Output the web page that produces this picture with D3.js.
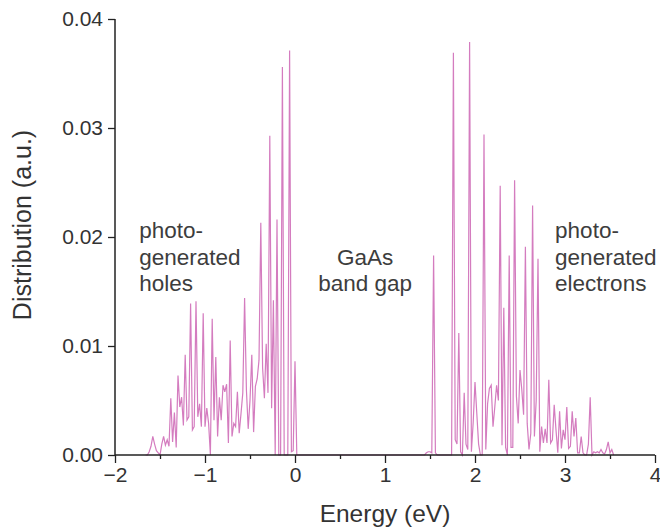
<!DOCTYPE html>
<html>
<head>
<meta charset="utf-8">
<script src="https://cdn.jsdelivr.net/npm/d3@7/dist/d3.min.js"></script>
<style>
  html, body { margin: 0; padding: 0; background: #fff; }
  svg { display: block; font-family: "Liberation Sans", Arial, Helvetica, sans-serif; }
</style>
</head>
<body>
<svg id="chart" width="660" height="529"></svg>
<script>
// Energy grid (eV) and distribution of photo-generated holes (valence band side)
const holeEnergy = [
  -1.66, -1.64, -1.62, -1.60, -1.58, -1.56, -1.54, -1.52, -1.50, -1.48,
  -1.46, -1.44, -1.42, -1.40, -1.38, -1.36, -1.34, -1.32, -1.30, -1.28,
  -1.26, -1.24, -1.22, -1.20, -1.18, -1.16, -1.14, -1.12, -1.10, -1.08,
  -1.06, -1.04, -1.02, -1.00, -0.98, -0.96, -0.94, -0.92, -0.90, -0.88,
  -0.86, -0.84, -0.82, -0.80, -0.78, -0.76, -0.74, -0.72, -0.70, -0.68,
  -0.66, -0.64, -0.62, -0.60, -0.58, -0.56, -0.54, -0.52, -0.50, -0.48,
  -0.46, -0.44, -0.42, -0.40, -0.38, -0.36, -0.34, -0.32, -0.30, -0.28,
  -0.26, -0.24, -0.22, -0.20, -0.18, -0.16, -0.14, -0.12, -0.10, -0.08,
  -0.06, -0.04, -0.02, 0.00, 0.02, 0.04
];
const holeDist = [
  0, 0, 0.0003, 0.0008, 0.0017, 0.0010, 0.0004, 0.0002, 0, 0.0010,
  0.0017, 0.0009, 0.0014, 0.0008, 0.0052, 0.0012, 0.0039, 0.0007, 0.0073, 0.0044,
  0.0053, 0.0027, 0.0092, 0.0032, 0.0035, 0.0139, 0.0023, 0.0026, 0.0141, 0.0035,
  0.0047, 0.0026, 0.0130, 0.0026, 0.0043, 0.0029, 0, 0.0125, 0.0032, 0.0090,
  0.0017, 0.0053, 0.0032, 0.0064, 0.0058, 0.0065, 0.0011, 0.0105, 0.0017, 0.0029,
  0.0026, 0.0058, 0.0020, 0.0038, 0.0057, 0.0144, 0.0060, 0.0024, 0.0050, 0.0092,
  0.0021, 0.0063, 0.0070, 0.0087, 0.0213, 0.0080, 0.0052, 0.0102, 0.0057, 0.0293,
  0.0043, 0.0142, 0, 0.0216, 0, 0, 0.0356, 0, 0, 0,
  0.0371, 0.0003, 0.0004, 0.0086, 0, 0
];

// Energy grid (eV) and distribution of photo-generated electrons (conduction band side)
const electronEnergy = [
  1.44, 1.46, 1.48, 1.50, 1.52, 1.54, 1.56, 1.58, 1.60, 1.62,
  1.64, 1.66, 1.68, 1.70, 1.72, 1.74, 1.76, 1.78, 1.80, 1.82,
  1.84, 1.86, 1.88, 1.90, 1.92, 1.94, 1.96, 1.98, 2.00, 2.02,
  2.04, 2.06, 2.08, 2.10, 2.12, 2.14, 2.16, 2.18, 2.20, 2.22,
  2.24, 2.26, 2.28, 2.30, 2.32, 2.34, 2.36, 2.38, 2.40, 2.42,
  2.44, 2.46, 2.48, 2.50, 2.52, 2.54, 2.56, 2.58, 2.60, 2.62,
  2.64, 2.66, 2.68, 2.70, 2.72, 2.74, 2.76, 2.78, 2.80, 2.82,
  2.84, 2.86, 2.88, 2.90, 2.92, 2.94, 2.96, 2.98, 3.00, 3.02,
  3.04, 3.06, 3.08, 3.10, 3.12, 3.14, 3.16, 3.18, 3.20, 3.22,
  3.24, 3.26, 3.28, 3.30, 3.32, 3.34, 3.36, 3.38, 3.40, 3.42,
  3.44, 3.46, 3.48, 3.50, 3.52, 3.54
];
const electronDist = [
  0, 0.0002, 0.0003, 0.0003, 0.0002, 0.0183, 0.0002, 0, 0, 0,
  0, 0, 0, 0, 0, 0, 0.0369, 0.0014, 0.0010, 0.0112,
  0.0003, 0, 0.0057, 0.0010, 0.0005, 0.0379, 0.0003, 0.0030, 0.0067, 0.0038,
  0.0010, 0, 0, 0.0294, 0.0005, 0.0047, 0.0061, 0.0064, 0.0026, 0.0044,
  0.0064, 0.0050, 0.0247, 0.0009, 0.0135, 0.0007, 0, 0.0183, 0.0007, 0.0007,
  0.0252, 0.0054, 0.0029, 0.0078, 0.0060, 0.0037, 0.0191, 0.0029, 0.0005, 0.0020,
  0.0229, 0.0017, 0.0050, 0.0180, 0.0003, 0.0026, 0.0011, 0.0024, 0.0011, 0.0069,
  0.0011, 0.0014, 0.0046, 0.0023, 0.0002, 0.0040, 0.0006, 0.0023, 0.0014, 0.0044,
  0.0006, 0.0008, 0.0040, 0.0017, 0.0034, 0.0002, 0.0002, 0.0017, 0.0002, 0,
  0, 0.0010, 0.0053, 0, 0.0003, 0.0002, 0.0003, 0.0002, 0.0005, 0.0002,
  0.0001, 0.0005, 0.0012, 0.0002, 0.0005, 0
];

const xTicks = [-2, -1, 0, 1, 2, 3, 4];
const xMinorTicks = [-1.5, -0.5, 0.5, 1.5, 2.5, 3.5];
const yTicks = [0, 0.01, 0.02, 0.03, 0.04];

const annotations = [
  { lines: ["photo-", "generated", "holes"], x: -1.73, anchor: "start" },
  { lines: ["GaAs", "band gap"], x: 0.78, anchor: "middle", offset: 1 },
  { lines: ["photo-", "generated", "electrons"], x: 2.89, anchor: "start" }
];

const width = 660, height = 529;
const margin = { top: 19, right: 5, bottom: 74, left: 115 };
const innerW = width - margin.left - margin.right;
const innerH = height - margin.top - margin.bottom;

const svg = d3.select("#chart");
const g = svg.append("g").attr("transform", `translate(${margin.left},${margin.top})`);

const x = d3.scaleLinear().domain([-2, 4]).range([0, innerW]);
const y = d3.scaleLinear().domain([0, 0.04]).range([innerH, 0]);

// One continuous trace: holes, the empty gap at zero, then electrons
const series = holeEnergy.map((e, i) => [e, holeDist[i]])
  .concat(electronEnergy.map((e, i) => [e, electronDist[i]]));

const line = d3.line().x(d => x(d[0])).y(d => y(d[1]));

g.append("path")
  .datum(series)
  .attr("fill", "none")
  .attr("stroke", "#d47cbf")
  .attr("stroke-width", 1.2)
  .attr("stroke-linejoin", "miter")
  .attr("d", line);

const axisColor = "#222";
const fmtMinus = v => String(v).replace("-", "\u2212");

// Bottom axis with major and minor ticks
const xAxis = g.append("g").attr("transform", `translate(0,${innerH})`)
  .call(d3.axisBottom(x).tickValues(xTicks).tickSize(8).tickPadding(4).tickFormat(fmtMinus));
const xMinor = g.append("g").attr("transform", `translate(0,${innerH})`)
  .call(d3.axisBottom(x).tickValues(xMinorTicks).tickSize(4).tickFormat(""));
xMinor.select(".domain").remove();

// Left axis
const yAxis = g.append("g")
  .call(d3.axisLeft(y).tickValues(yTicks).tickSize(7).tickPadding(5).tickFormat(d3.format(".2f")));

[xAxis, xMinor, yAxis].forEach(ax => {
  ax.selectAll(".domain").attr("stroke", axisColor).attr("stroke-width", 1.5);
  ax.selectAll(".tick line").attr("stroke", axisColor).attr("stroke-width", 1.3);
  ax.selectAll(".tick text").attr("fill", "#333").style("font-size", "21px")
    .style("font-family", "'Liberation Sans', Arial, sans-serif");
});
xAxis.select(".domain").attr("d", `M0,0H${innerW}`);
yAxis.select(".domain").attr("d", `M0,${innerH + 0.75}V0`);

// Axis titles
svg.append("text")
  .attr("x", margin.left + x(1))
  .attr("y", 522)
  .attr("text-anchor", "middle")
  .attr("fill", "#333")
  .style("font-size", "24.5px")
  .text("Energy (eV)");

svg.append("text")
  .attr("transform", `translate(31,225) rotate(-90)`)
  .attr("text-anchor", "middle")
  .attr("fill", "#333")
  .style("font-size", "25px")
  .text("Distribution (a.u.)");

// Region labels
annotations.forEach(a => {
  const t = g.append("text")
    .attr("text-anchor", a.anchor)
    .attr("fill", "#3d3d3d")
    .style("font-size", "22.5px");
  a.lines.forEach((s, i) => {
    t.append("tspan")
      .attr("x", x(a.x))
      .attr("y", y(0.02) + 1 + ((a.offset || 0) + i) * 26.5)
      .text(s);
  });
});
</script>
</body>
</html>
